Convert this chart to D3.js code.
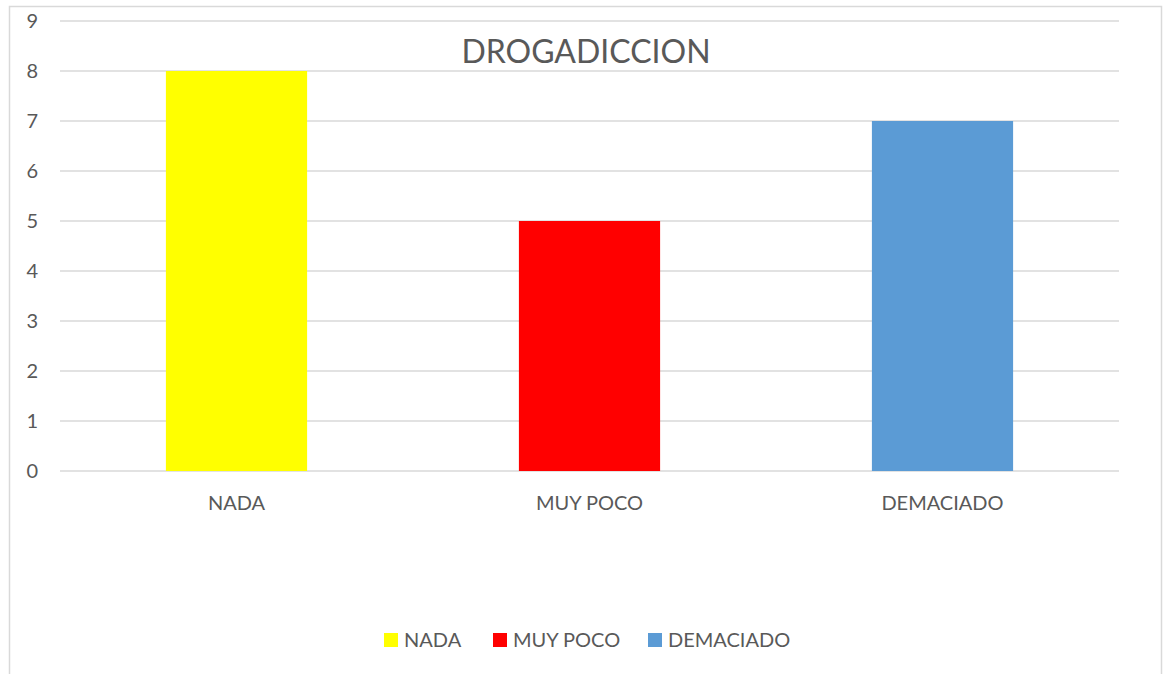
<!DOCTYPE html>
<html>
<head>
<meta charset="utf-8">
<script src="https://cdn.jsdelivr.net/npm/d3@7"></script>
<style>
  body { margin: 0; background: #fff; }
  svg text { font-family: Lato, "Liberation Sans", sans-serif; fill: #595959; }
</style>
</head>
<body>
<div id="chart"></div>
<script>
const categories = ["NADA", "MUY POCO", "DEMACIADO"];
const values = [8, 5, 7];
const barColors = ["#FFFF00", "#FF0000", "#5B9BD5"];
const yTicks = [0, 1, 2, 3, 4, 5, 6, 7, 8, 9];
const chartTitle = "DROGADICCION";

const W = 1168, H = 674;
const svg = d3.select("#chart").append("svg")
    .attr("width", W).attr("height", H);

// outer chart border
svg.append("rect")
    .attr("x", 9.5).attr("y", 6.5)
    .attr("width", 1152).attr("height", 700)
    .attr("fill", "none").attr("stroke", "#d9d9d9").attr("stroke-width", 1.5);

const x = d3.scaleBand()
    .domain(categories)
    .range([60, 1119])
    .paddingInner(0.6)
    .paddingOuter(0.3);

const y = d3.scaleLinear()
    .domain([0, 9])
    .range([471, 21]);

// gridlines
svg.append("g").selectAll("line")
    .data(yTicks).enter().append("line")
    .attr("x1", 60).attr("x2", 1119)
    .attr("y1", d => y(d)).attr("y2", d => y(d))
    .attr("stroke", "#d9d9d9").attr("stroke-width", 1.5);

// y labels
svg.append("g").selectAll("text")
    .data(yTicks).enter().append("text")
    .attr("x", 38).attr("y", d => y(d))
    .attr("dy", "0.35em")
    .attr("text-anchor", "end")
    .style("font-size", "20px")
    .text(d => d);

// bars
svg.append("g").selectAll("rect")
    .data(values).enter().append("rect")
    .attr("x", (d, i) => x(categories[i]))
    .attr("width", x.bandwidth())
    .attr("y", d => y(d))
    .attr("height", d => y(0) - y(d))
    .attr("fill", (d, i) => barColors[i]);

// category labels
svg.append("g").selectAll("text")
    .data(categories).enter().append("text")
    .attr("x", d => x(d) + x.bandwidth() / 2)
    .attr("y", 510)
    .attr("text-anchor", "middle")
    .style("font-size", "20px")
    .text(d => d);

// title
svg.append("text")
    .attr("x", 586).attr("y", 63)
    .attr("text-anchor", "middle")
    .style("font-size", "32px")
    .text(chartTitle);

// legend
const legendX = [384, 493, 648];
const leg = svg.append("g").selectAll("g")
    .data(categories).enter().append("g")
    .attr("transform", (d, i) => `translate(${legendX[i]},633)`);
leg.append("rect")
    .attr("width", 14).attr("height", 14)
    .attr("fill", (d, i) => barColors[i]);
leg.append("text")
    .attr("x", 20).attr("y", 7)
    .attr("dy", "0.35em")
    .style("font-size", "20px")
    .text(d => d);
</script>
</body>
</html>
